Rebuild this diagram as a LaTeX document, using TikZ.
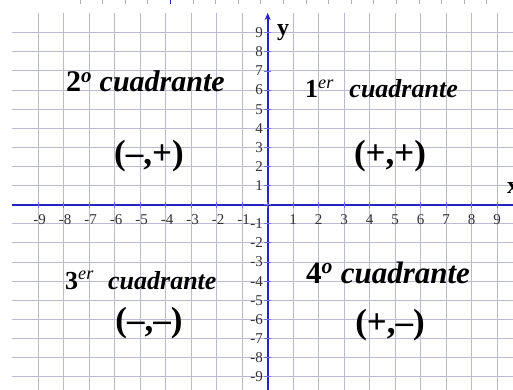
\documentclass[tikz,border=0pt]{standalone}
\usepackage{fontspec}
\setmainfont{Liberation Serif}
\usetikzlibrary{arrows.meta}
\definecolor{gridc}{RGB}{186,186,212}
\definecolor{axisc}{RGB}{35,35,200}
\definecolor{tickc}{RGB}{110,110,230}
\definecolor{labc}{RGB}{50,50,50}
\definecolor{topc}{RGB}{175,175,185}
\newcommand\myfs[1]{\fontsize{#1}{#1}\selectfont}
\begin{document}
\begin{tikzpicture}[x=1pt,y=-1pt,
  gridline/.style={draw=gridc,line width=1pt},
  axisline/.style={draw=axisc,line width=1.8pt},
  axtick/.style={draw=tickc,line width=0.9pt},
  ticklab/.style={font=\myfs{15},text=labc,inner sep=0pt},
  quad/.style={anchor=base west,inner sep=0pt,text=black},
  signs/.style={font=\myfs{35}\bfseries,inner sep=0pt,text=black},
  axlab/.style={anchor=base west,inner sep=0pt,font=\myfs{24}\bfseries}]
\useasboundingbox (0,0) rectangle (513,390);
\fill[white] (0,0) rectangle (513,390);
% small marks along the top edge
\foreach \i in {0,...,18}{
  \draw[topc,line width=0.8pt] ({80+22.6*\i},0) -- ({80+22.6*\i},4);
}
\draw[axisc,line width=0.8pt] ({80+22.6*4},0) -- ({80+22.6*4},4);
% grid
\foreach \k in {-9,...,9}{
  \draw[gridline] ({267.7+\k*25.5},13) -- ({267.7+\k*25.5},390);
  \draw[gridline] (12,{204.7-\k*19.1}) -- (513,{204.7-\k*19.1});
}
% axes
\coordinate (xa) at (12,204.7);
\coordinate (xb) at (513,204.7);
\coordinate (ya) at (267.7,390);
\coordinate (yb) at (267.7,13);
\draw[axisline] (xa) -- (xb);
\draw[axisline,-{Stealth[length=7pt,width=6pt]}] (ya) -- (yb);
% axis ticks
\foreach \k in {-9,...,9}{
  \draw[axtick] ({267.7+\k*25.5},201.7) -- ({267.7+\k*25.5},207.7);
  \draw[axtick] (264.2,{204.7-\k*19.1}) -- (271.2,{204.7-\k*19.1});
}
% tick labels
\foreach \k in {1,...,9}{
  \node[ticklab] (xp\k) at ({267.7+\k*25.5},220) {\k};
  \node[ticklab] (xn\k) at ({267.7-\k*25.5+1.5},220) {-\k};
  \node[ticklab,anchor=east] (yp\k) at (263,{204.7-\k*19.1}) {\k};
  \node[ticklab,anchor=east] (yn\k) at (263,{204.7+\k*19.1}) {-\k};
}
% axis labels
\node[axlab] (ylab) at (277,36) {y};
\node[axlab] (xlab) at (507,193) {x};
% quadrant names
\node[quad] (q2) at (66,92) {\myfs{30}\bfseries 2\textsuperscript{\itshape o} \itshape cuadrante};
\node[quad] (q1) at (305,98) {\myfs{26}\bfseries 1\textsuperscript{\mdseries\itshape er}\hspace{0.6em}\itshape cuadrante};
\node[quad] (q3) at (65,289) {\myfs{26}\bfseries 3\textsuperscript{\mdseries\itshape er}\hspace{0.55em}\itshape cuadrante};
\node[quad] (q4) at (306,283) {\myfs{31}\bfseries 4\textsuperscript{\itshape o} \itshape cuadrante};
% signs
\node[signs] (s2) at (149,156) {(–,+)};
\node[signs] (s1) at (390,156) {(+,+)};
\node[signs] (s3) at (149,323) {(–,–)};
\node[signs] (s4) at (390,325) {(+,–)};
\end{tikzpicture}
\end{document}
